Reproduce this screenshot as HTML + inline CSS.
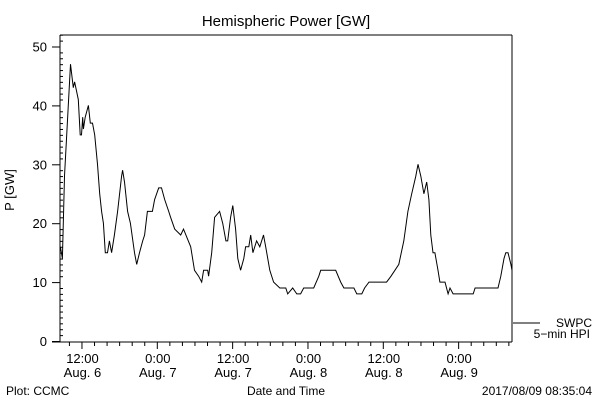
<!DOCTYPE html>
<html><head><meta charset="utf-8"><style>
body{margin:0;background:#fff}
svg text{font-family:"Liberation Sans",sans-serif;fill:#000}
</style></head><body>
<svg id="chart" width="600" height="400" viewBox="0 0 600 400" xmlns="http://www.w3.org/2000/svg">
<rect width="600" height="400" fill="#fff"/>
<text x="286" y="26" font-size="15" text-anchor="middle">Hemispheric Power [GW]</text>
<g id="axes"></g>
<path id="series" fill="none" stroke="#000" stroke-width="1"/>
<text transform="translate(14,190) rotate(-90)" font-size="13" text-anchor="middle">P [GW]</text>
<text x="286" y="395" font-size="12" text-anchor="middle">Date and Time</text>
<text x="6" y="395" font-size="12">Plot: CCMC</text>
<text x="592" y="395" font-size="12" text-anchor="end">2017/08/09 08:35:04</text>
<line x1="513" y1="323" x2="540" y2="323" stroke="#000"/>
<text x="592" y="327" font-size="12" text-anchor="end">SWPC</text>
<text x="590" y="338" font-size="12" text-anchor="end">5−min HPI</text>
</svg>
<script>
const hours=[8.65,8.97,9.29,9.6,10.25,10.7,10.9,11.5,11.8,12,12.2,12.3,12.6,13.1,13.4,13.75,14.1,14.55,14.9,15.2,15.5,15.8,16.15,16.45,16.8,17.25,17.75,18.4,18.55,18.85,19.35,19.8,20.45,20.8,21.25,21.75,22.05,22.5,23.3,23.65,24.3,24.75,25.25,25.9,26.2,26.85,27.8,28.25,29.4,30,30.65,31.15,31.45,32.1,32.25,32.75,33.2,34,34.5,35,35.3,35.75,36.1,36.55,36.9,37.35,37.85,38.15,38.65,38.95,39.3,39.9,40.4,41,41.35,42,42.6,43.6,44.55,44.85,45.65,46.3,46.9,47.4,49,49.8,50.1,52.5,53.3,53.8,55.4,55.85,56.65,57.1,57.8,58.1,60.6,61.3,62.55,63.35,64,64.6,65.25,65.6,66.05,66.55,67,67.35,67.65,68,68.3,68.8,69.1,69.9,70.4,70.7,71.2,74.4,74.7,78.35,78.8,79.3,79.6,79.95,80.4,80.58];
const power=[16,14,28,34,47,43,44,41,35,35,38,36,38,40,37,37,35,30,25,22,20,15,15,17,15,18,22,28,29,27,22,20,15,13,15,17,18,22,22,24,26,26,24,22,21,19,18,19,16,12,11,10,12,12,11,15,21,22,20,17,17,21,23,19,14,12,14,16,16,18,15,17,16,18,16,12,10,9,9,8,9,8,8,9,9,11,12,12,10,9,9,8,8,9,10,10,10,11,13,17,22,25,28,30,28,25,27,24,18,15,15,12,10,10,8,9,8,8,9,9,11,14,15,15,13,12];
const yTicks=[0,10,20,30,40,50];
const xTickHours=[12,24,36,48,60,72];
const xTickTimes=["12:00","0:00","12:00","0:00","12:00","0:00"];
const xTickDates=["Aug. 6","Aug. 7","Aug. 7","Aug. 8","Aug. 8","Aug. 9"];
const X0=60,X1=512,Y0=341,YT=35;
const hMin=8.58,hMax=80.58;
function xs(h){return X0+(h-hMin)/(hMax-hMin)*(X1-X0);}
function ys(v){return Y0-v*5.89;}
const NS="http://www.w3.org/2000/svg";
const ax=document.getElementById('axes');
function ln(x1,y1,x2,y2,name){const l=document.createElementNS(NS,'line');
l.setAttribute('x1',x1);l.setAttribute('y1',y1);l.setAttribute('x2',x2);l.setAttribute('y2',y2);l.setAttribute('stroke','#000');


ax.appendChild(l);}
function tx(x,y,s,name){const t=document.createElementNS(NS,'text');
t.setAttribute('x',x);t.setAttribute('y',y);t.setAttribute('font-size','13');t.setAttribute('text-anchor','middle');t.textContent=s;


ax.appendChild(t);}
ln(X0,YT,X1,YT,'plot-top-border');ln(X0,YT,X0,342,'y-axis');ln(X1,YT,X1,342,'plot-right-border');ln(52,342,X1,342,'x-axis');
for(let v=0;v<=52;v++){const y=ys(v)+0.5;if(v%10===0)ln(52,y,X0,y,'y-major-tick');else ln(X0,y,X0+3,y,'y-minor-tick');}
yTicks.forEach(v=>{const t=document.createElementNS(NS,'text');t.setAttribute('x',47);t.setAttribute('y',ys(v)+5);t.setAttribute('font-size','13');t.setAttribute('text-anchor','end');t.textContent=v;


ax.appendChild(t);});
for(let h=10;h<=80;h+=2){const x=xs(h)+0.5;if(h%12===0)ln(x,342,x,349,'x-major-tick');else ln(x,342,x,346,'x-minor-tick');}
xTickHours.forEach((h,i)=>{tx(xs(h)+1,363,xTickTimes[i],'x-tick-time');tx(xs(h)+1,377,xTickDates[i],'x-tick-date');});
let d='';hours.forEach((h,i)=>{d+=(i?'L':'M')+xs(h).toFixed(1)+' '+ys(power[i]).toFixed(1);});
document.getElementById('series').setAttribute('d',d);
</script>
</body></html>
